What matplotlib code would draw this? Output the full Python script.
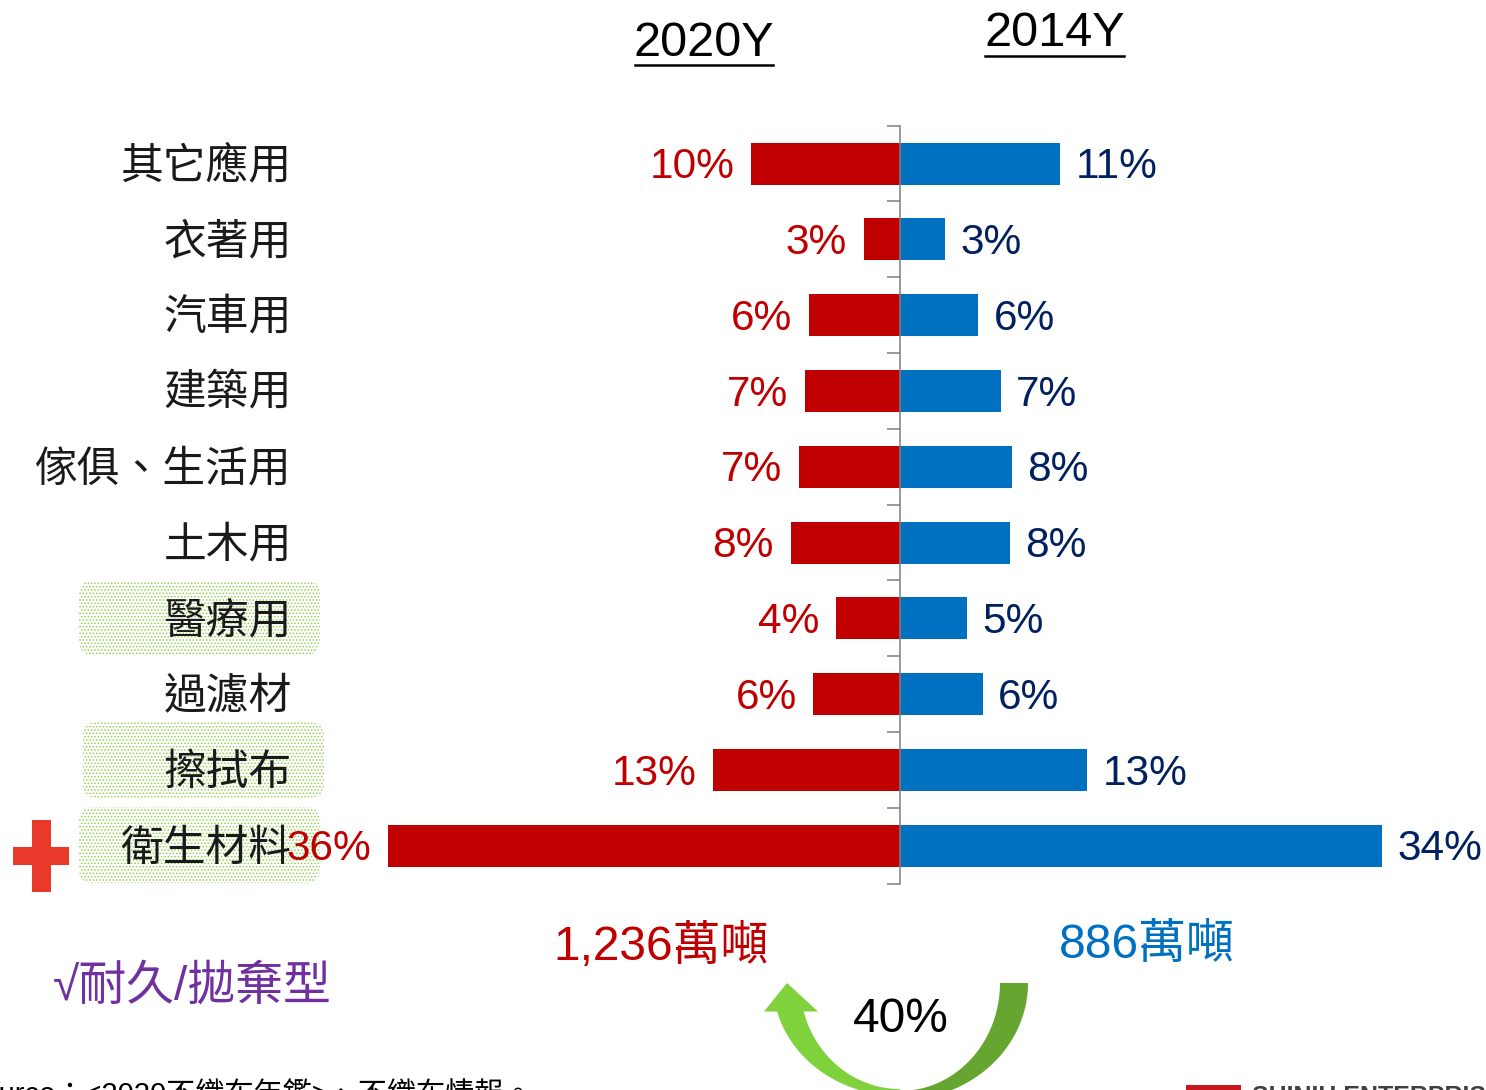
"""
Non-woven usage split, 2020Y vs 2014Y, as a butterfly bar chart
"""

import matplotlib
matplotlib.use('Agg')
import matplotlib.pyplot as plt
from matplotlib.patches import FancyBboxPatch, Polygon, Rectangle
from matplotlib.transforms import blended_transform_factory
import numpy as np

plt.rcParams['font.family'] = ['Liberation Sans', 'Noto Sans CJK TC', 'DejaVu Sans']
plt.rcParams['hatch.linewidth'] = 0.7

categories = ['其它應用', '衣著用', '汽車用', '建築用', '傢俱、生活用',
              '土木用', '醫療用', '過濾材', '擦拭布', '衛生材料']
# bar lengths as drawn, they do not follow the rounded labels exactly
vals_2020 = [10.5, 2.55, 6.4, 6.7, 7.1, 7.7, 4.5, 6.1, 13.15, 36.05]
vals_2014 = [11.3, 3.2, 5.5, 7.1, 7.9, 7.75, 4.7, 5.85, 13.2, 33.95]
labels_2020 = ['10%', '3%', '6%', '7%', '7%', '8%', '4%', '6%', '13%', '36%']
labels_2014 = ['11%', '3%', '6%', '7%', '8%', '8%', '5%', '6%', '13%', '34%']

RED = '#C00000'
BLUE = '#0070C0'
NAVY = '#002060'
GREY = '#7F7F7F'

W, H = 1486, 1090
x_zero, px_per_pct = 900, 14.2
y_first, px_per_row = 163.6, 75.8


def arc(a, b, t):
    """Half-ellipse edge of the growth arrow, on the pixel canvas"""
    return np.c_[900 + a * np.cos(t), 983 + b * np.sin(t)]


def main():
    fig = plt.figure(figsize=(W / 100, H / 100), dpi=100)

    # Bars
    ax = fig.add_axes([0, 0, 1, 1])
    ax.set_xlim(-x_zero / px_per_pct, (W - x_zero) / px_per_pct)
    ax.set_ylim((H - y_first) / px_per_row, -y_first / px_per_row)
    ax.patch.set_alpha(0)
    ypos = np.arange(len(categories))
    bars_l = ax.barh(ypos, -np.array(vals_2020), height=0.554, color=RED, zorder=3)
    bars_r = ax.barh(ypos, vals_2014, height=0.554, color=BLUE, zorder=3)
    for bars, labels, col, pad in [(bars_l, labels_2020, RED, 12),
                                   (bars_r, labels_2014, NAVY, 11)]:
        txts = ax.bar_label(bars, labels=labels, padding=pad, color=col, fontsize=30.5)
        for t in txts:
            t.xyann = (t.xyann[0], -2.6)

    for s in ('top', 'right', 'bottom'):
        ax.spines[s].set_visible(False)
    ax.spines['left'].set_position(('data', 0))
    ax.spines['left'].set_bounds(-0.5, len(categories) - 0.5)
    ax.spines['left'].set_color(GREY)
    ax.spines['left'].set_linewidth(1.1)
    ax.spines['left'].set_zorder(4)
    ax.set_xticks([])
    ax.set_yticks(np.arange(-0.5, len(categories), 1))
    ax.set_yticklabels([])
    ax.tick_params(axis='y', length=9.5, width=1.1, color=GREY, direction='out')

    # Everything else sits on a pixel canvas underneath the bars
    bg = fig.add_axes([0, 0, 1, 1], zorder=-1)
    bg.set_xlim(0, W)
    bg.set_ylim(H, 0)
    bg.axis('off')

    for x0, y0, x1, y1 in [(79, 581, 320, 655), (83, 722, 324, 798), (79, 807, 320, 883)]:
        bg.add_patch(FancyBboxPatch(
            (x0 + 14, y0 + 14), x1 - x0 - 28, y1 - y0 - 28,
            boxstyle='round,pad=14,rounding_size=14', mutation_aspect=1,
            facecolor='white', edgecolor='#8FD14F', hatch='.....', lw=0))

    trans = blended_transform_factory(bg.transData, ax.transData)
    for i, cat in enumerate(categories):
        bg.text(291.5, i + 0.05, cat, transform=trans, ha='right', va='center',
                fontsize=30.8, color='#1A1A1A')

    # Red plus next to the last row
    bg.add_patch(Rectangle((32, 820), 19, 72, color='#E8392A', lw=0))
    bg.add_patch(Rectangle((13, 847), 56, 18, color='#E8392A', lw=0))

    # Year headers
    bg.text(704, 43, '2020Y', fontsize=35, ha='center', va='center')
    bg.plot([635, 773], [65, 65], color='k', lw=1.8)
    bg.text(1054.5, 33, '2014Y', fontsize=35, ha='center', va='center')
    bg.plot([985, 1124], [56, 56], color='k', lw=1.8)

    # Totals
    bg.text(661.5, 947, '1,236萬噸', fontsize=34.5, color=RED, ha='center', va='center')
    bg.text(1146.5, 946, '886萬噸', fontsize=34.5, color=BLUE, ha='center', va='center')
    bg.text(192, 987, '√耐久/拋棄型', fontsize=34.5, color='#7030A0', ha='center', va='center')
    bg.text(900.5, 1020, '40%', fontsize=34.5, color='k', ha='center', va='center')

    # Curved growth arrow
    t = np.linspace(0, np.pi / 2, 60)
    bg.add_patch(Polygon(np.r_[arc(128, 117, t), arc(100, 108, t)[::-1]],
                         color='#66A630', lw=0))
    t_in = np.linspace(np.pi / 2, np.pi - np.arcsin(28 / 106), 60)
    t_out = np.linspace(np.pi / 2, np.pi - np.arcsin(28 / 113), 60)
    bg.add_patch(Polygon(np.r_[arc(100, 106, t_in), arc(127, 113, t_out)[::-1]],
                         color='#80D23C', lw=0))
    bg.add_patch(Polygon([(787, 983), (764, 1011.5), (818, 1011.5)], color='#80D23C', lw=0))

    # Source line and logo, both cut off by the slide crop
    bg.text(-36, 1082, 'Source：<2020不織布年鑑>、不織布情報。', fontsize=21, color='k',
            ha='left', va='top')
    bg.add_patch(Rectangle((1186, 1085), 55, 10, color='#C8161D', lw=0))
    bg.text(1252, 1085, 'SHINIH ENTERPRIS', fontsize=18, fontweight='bold',
            color='#404040', ha='left', va='top')

    fig.savefig('out.png', dpi=100)


if __name__ == '__main__':
    main()
